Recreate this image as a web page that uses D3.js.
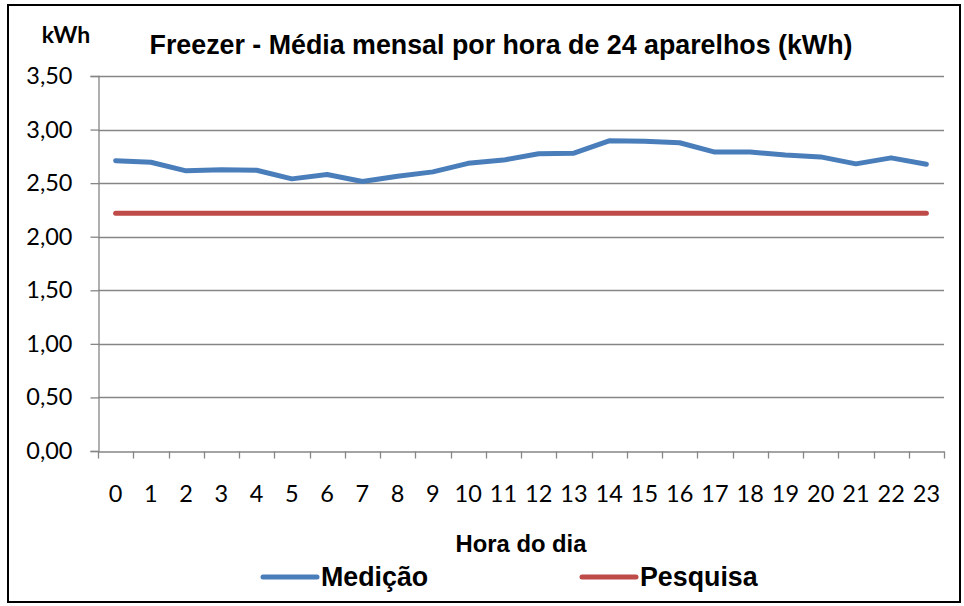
<!DOCTYPE html>
<html><head><meta charset="utf-8">
<script src="https://cdn.jsdelivr.net/npm/d3@7"></script>
<style>
html,body{margin:0;padding:0;background:#fff;}
svg{display:block;}
</style></head>
<body>
<svg id="chart" width="964" height="606"></svg>
<script>
const hours = ["0","1","2","3","4","5","6","7","8","9","10","11","12","13","14","15","16","17","18","19","20","21","22","23"];
const medicao = [2.71,2.695,2.615,2.625,2.62,2.54,2.58,2.515,2.565,2.605,2.685,2.715,2.775,2.78,2.895,2.89,2.877,2.79,2.79,2.762,2.745,2.68,2.736,2.676];
const pesquisa = [2.22,2.22,2.22,2.22,2.22,2.22,2.22,2.22,2.22,2.22,2.22,2.22,2.22,2.22,2.22,2.22,2.22,2.22,2.22,2.22,2.22,2.22,2.22,2.22];
const yTicks = [0,0.5,1,1.5,2,2.5,3,3.5];
const yTickLabels = ["0,00","0,50","1,00","1,50","2,00","2,50","3,00","3,50"];
const seriesNames = ["Medição","Pesquisa"];
const titleText = "Freezer - Média mensal por hora de 24 aparelhos (kWh)";
const yUnit = "kWh";
const xTitle = "Hora do dia";

const svg = d3.select("#chart");
const colors = ["#4A7EBB","#BE4B48"];
const gridColor = "#868686";

// outer border
svg.append("rect").attr("x",8).attr("y",5).attr("width",952).attr("height",597)
  .attr("fill","#fff").attr("stroke","#000").attr("stroke-width",2);

const x = d3.scaleBand().domain(hours).range([98,944]).padding(0);
const y = d3.scaleLinear().domain([0,3.5]).range([451,76]);

// gridlines
svg.append("g").selectAll("line").data(yTicks.filter(d=>d>0)).join("line")
  .attr("x1",98).attr("x2",944).attr("y1",d=>Math.round(y(d))+0.5).attr("y2",d=>Math.round(y(d))+0.5)
  .attr("stroke",gridColor).attr("stroke-width",1.3);

// y axis
const yAxis = d3.axisLeft(y).tickValues(yTicks).tickSize(8)
  .tickFormat((d,i)=>yTickLabels[i]).tickPadding(18);
const gy = svg.append("g").attr("transform","translate(98.5,0)").call(yAxis);
gy.select(".domain").attr("stroke",gridColor).attr("stroke-width",1.3);
gy.selectAll(".tick line").attr("stroke",gridColor).attr("stroke-width",1.3);
gy.selectAll(".tick text").attr("font-family","Lato, 'Open Sans', sans-serif").attr("font-size",23.5).attr("fill","#000");

// x axis
const xAxis = d3.axisBottom(x).tickSize(0).tickPadding(0);
const gx = svg.append("g").attr("transform","translate(0,451.5)").call(xAxis);
gx.select(".domain").attr("stroke",gridColor).attr("stroke-width",1.3);
gx.selectAll(".tick text").attr("font-family","Lato, 'Open Sans', sans-serif").attr("font-size",23.5).attr("fill","#000")
  .attr("dy",0).attr("y",50);
// x tick marks at band boundaries
const bounds = hours.map(h=>x(h)).concat([x(hours[hours.length-1])+x.bandwidth()]);
gx.append("g").selectAll("line").data(bounds).join("line")
  .attr("x1",d=>Math.round(d)+0.5).attr("x2",d=>Math.round(d)+0.5).attr("y1",0).attr("y2",7)
  .attr("stroke",gridColor).attr("stroke-width",1.3);

// lines
const line = d3.line().x((d,i)=>x(hours[i])+x.bandwidth()/2).y(d=>y(d));
[medicao,pesquisa].forEach((s,k)=>{
  svg.append("path").datum(s).attr("d",line).attr("fill","none")
    .attr("stroke",colors[k]).attr("stroke-width",5).attr("stroke-linecap","round").attr("stroke-linejoin","round");
});

// title
svg.append("text").attr("x",501).attr("y",54).attr("text-anchor","middle")
  .attr("font-family","'Liberation Sans', Arial, sans-serif").attr("font-weight","bold").attr("font-size",26.8)
  .text(titleText);
svg.append("text").attr("x",66).attr("y",43).attr("text-anchor","middle")
  .attr("font-family","Lato, sans-serif").attr("font-weight","bold").attr("font-size",23)
  .text(yUnit);
svg.append("text").attr("x",521).attr("y",552).attr("text-anchor","middle")
  .attr("font-family","'Liberation Sans', Arial, sans-serif").attr("font-weight","bold").attr("font-size",23.8)
  .text(xTitle);

// legend
const legX = [263,582];
seriesNames.forEach((n,k)=>{
  const g = svg.append("g");
  g.append("line").attr("x1",legX[k]).attr("x2",legX[k]+54).attr("y1",577).attr("y2",577)
    .attr("stroke",colors[k]).attr("stroke-width",5).attr("stroke-linecap","round");
  g.append("text").attr("x",legX[k]+58).attr("y",586)
    .attr("font-family","'Liberation Sans', Arial, sans-serif").attr("font-weight","bold").attr("font-size",26.8)
    .text(n);
});
</script>
</body></html>
